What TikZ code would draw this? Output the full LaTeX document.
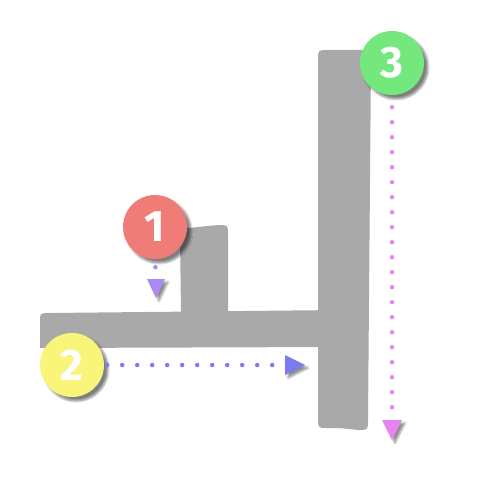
\documentclass[tikz,border=0pt]{standalone}
\usepackage{fontspec}
\setmainfont{Fira Sans}
\usetikzlibrary{shadows.blur}
\definecolor{strokegray}{HTML}{A9A9A9}
\definecolor{cred}{HTML}{F07C78}
\definecolor{cyellow}{HTML}{F9F47A}
\definecolor{cgreen}{HTML}{74E87C}
\definecolor{aviolet}{HTML}{A98AF2}
\definecolor{ablue}{HTML}{7C7CF0}
\definecolor{apink}{HTML}{E884F2}
\tikzset{
  strokeshape/.style={fill=strokegray, draw=none},
  numcircle/.style={circle, minimum size=64pt, inner sep=0pt, text=white,
    font=\fontsize{44}{44}\selectfont,
    blur shadow={shadow xshift=4pt, shadow yshift=-4pt, shadow blur steps=8, shadow opacity=50}},
  dotline/.style={line width=4.5pt, line cap=round, dash pattern=on 0pt off 15pt},
  arrowtri/.style={draw=none,
    blur shadow={shadow xshift=3pt, shadow yshift=-3pt, shadow blur steps=6, shadow opacity=45}}
}
\begin{document}
\begin{tikzpicture}[x=1pt,y=-1pt]
\useasboundingbox (0,0) rectangle (500,500);
% strokes
\path[strokeshape] (181,313) -- (180,236) .. controls (180,228) .. (188,228)
  -- (218,225) .. controls (228,225) .. (228,234) -- (228,313) -- cycle;
\path[strokeshape] (40,348) -- (40,322) .. controls (40,313) .. (49,313)
  -- (340,310) -- (340,347) -- cycle;
\path[strokeshape] (318,60) .. controls (318,50) .. (328,50) -- (362,50)
  .. controls (371,50) .. (371,60) -- (368,420) .. controls (368,430) .. (358,430)
  .. controls (340,428) .. (327,428) .. controls (318,428) .. (318,418) -- cycle;
% arrow heads
\coordinate (e1) at (156,279);
\coordinate (e2) at (285,365);
\coordinate (e3) at (392,420);
\path[arrowtri, fill=aviolet] (e1) ++(-9,0) -- ++(18,0) -- (156,298) -- cycle;
\path[arrowtri, fill=ablue] (e2) ++(0,-10) -- ++(20,10) -- ++(-20,10) -- cycle;
\path[arrowtri, fill=apink] (e3) ++(-10,0) -- ++(20,0) -- (392,440) -- cycle;
% circles
\node[numcircle, fill=cred] (c1) at (155,227) {\bfseries 1};
\node[numcircle, fill=cyellow] (c2) at (72,365) {\bfseries 2};
\node[numcircle, fill=cgreen] (c3) at (392,63) {\bfseries 3};
% dotted connectors
\draw[dotline, aviolet, dash phase=7pt] (c1.south) -- (e1);
\draw[dotline, ablue, dash phase=12pt] (c2.east) -- (e2);
\draw[dotline, apink, dash phase=3pt] (c3.south) -- (e3);
\end{tikzpicture}
\end{document}
